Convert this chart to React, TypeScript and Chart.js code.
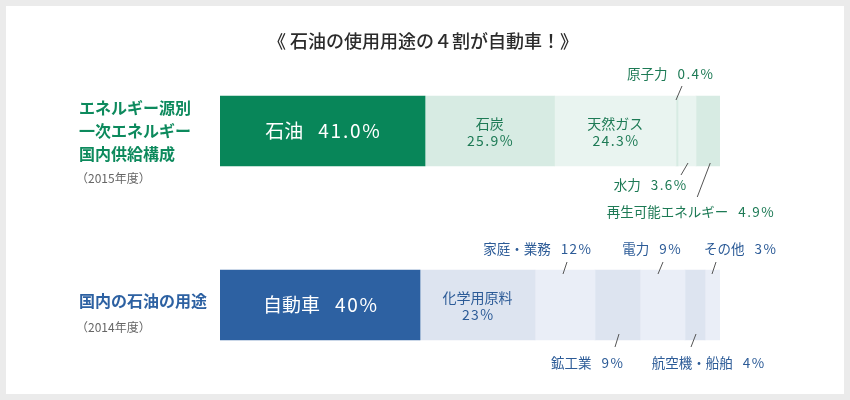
import React, { useEffect, useRef } from 'react';
import { Chart, registerables } from 'chart.js';

Chart.register(...registerables);

// ---- data ----
const titleText = '《 石油の使用用途の４割が自動車！》';
const rowKeys = ['energy', 'usage'];
const energyTitleLines = ['エネルギー源別', '一次エネルギー', '国内供給構成'];
const energyYear = '（2015年度）';
const usageTitleLines = ['国内の石油の用途'];
const usageYear = '（2014年度）';

const energyNames = ['石油', '石炭', '天然ガス', '原子力', '水力', '再生可能エネルギー'];
const energyValues = [41.0, 25.9, 24.3, 0.4, 3.6, 4.9];
const usageNames = ['自動車', '化学用原料', '家庭・業務', '鉱工業', '電力', '航空機・船舶', 'その他'];
const usageValues = [40, 23, 12, 9, 9, 4, 3];

// ---- styles ----
const FONT = '"Noto Sans CJK JP", "Noto Sans", sans-serif';
const energyColors = ['#088659', '#d7ebe3', '#e9f4f0', '#d7ebe3', '#e9f4f0', '#d7ebe3'];
const usageColors = ['#2d61a2', '#dde4f0', '#eaeef7', '#dde4f0', '#eaeef7', '#dde4f0', '#eaeef7'];
const energyText = '#1d7a55';
const usageText = '#2c5b97';
const energyTitleColor = '#0d8a5d';
const usageTitleColor = '#2d61a2';

type LabelStyle = {
  mode: 'big' | 'inside' | 'top' | 'bottom';
  dx?: number;
  dy?: number;
  line?: [number, number, number, number];
};

const energyLabelStyles: LabelStyle[] = [
  { mode: 'big' },
  { mode: 'inside' },
  { mode: 'inside' },
  { mode: 'top', dx: -7, dy: -22, line: [-1, 4, 5, -10] },
  { mode: 'bottom', dx: -37, dy: 19, line: [1, -3, -6, 9] },
  { mode: 'bottom', dx: -18, dy: 46, line: [2, -3, -11, 31] },
];
const usageLabelStyles: LabelStyle[] = [
  { mode: 'big' },
  { mode: 'inside' },
  { mode: 'top', dx: -28, dy: -21, line: [2, -8, -2, 4] },
  { mode: 'bottom', dx: -30.5, dy: 23, line: [1.5, -6, -2.5, 7] },
  { mode: 'top', dx: -11, dy: -21, line: [0.5, -8, -4.5, 4] },
  { mode: 'bottom', dx: 13, dy: 23, line: [1, -6, -4, 7] },
  { mode: 'top', dx: 27.5, dy: -21, line: [3.5, -8, -0.5, 4] },
];

const rows = [
  { names: energyNames, values: energyValues, decimals: 1, colors: energyColors, text: energyText, styles: energyLabelStyles },
  { names: usageNames, values: usageValues, decimals: 0, colors: usageColors, text: usageText, styles: usageLabelStyles },
];

const maxSegments = Math.max(energyValues.length, usageValues.length);

function drawPair(ctx: any, name: string, value: string, cx: number, y: number, font: string, gap: number, spacing: number) {
  ctx.font = font;
  ctx.textAlign = 'left';
  ctx.letterSpacing = '0px';
  const nw = ctx.measureText(name).width;
  ctx.letterSpacing = spacing + 'px';
  const vw = ctx.measureText(value).width - spacing;
  const total = nw + gap + vw;
  const x0 = cx - total / 2;
  ctx.letterSpacing = '0px';
  ctx.fillText(name, x0, y);
  ctx.letterSpacing = spacing + 'px';
  ctx.fillText(value, x0 + nw + gap, y);
  ctx.letterSpacing = '0px';
}

function drawSpaced(ctx: any, text: string, cx: number, y: number, font: string, spacing: number) {
  ctx.font = font;
  ctx.textAlign = 'left';
  ctx.letterSpacing = spacing + 'px';
  const w = ctx.measureText(text).width - spacing;
  ctx.fillText(text, cx - w / 2, y);
  ctx.letterSpacing = '0px';
}

const framePlugin = {
  id: 'frame',
  beforeDraw(chart: any) {
    const ctx = chart.ctx;
    ctx.save();
    ctx.fillStyle = '#ebebeb';
    ctx.fillRect(0, 0, chart.width, chart.height);
    ctx.fillStyle = '#ffffff';
    ctx.fillRect(6, 6, chart.width - 12, chart.height - 12);
    ctx.restore();
  },
};

const labelsPlugin = {
  id: 'labels',
  afterDatasetsDraw(chart: any) {
    const ctx = chart.ctx;
    ctx.save();
    ctx.textBaseline = 'middle';

    // title
    ctx.fillStyle = '#2b2b2b';
    ctx.textAlign = 'center';
    ctx.font = `500 18px ${FONT}`;
    ctx.fillText(titleText, 423, 41);

    rows.forEach((row, r) => {
      let barCenter = 0;
      row.values.forEach((v, i) => {
        const meta = chart.getDatasetMeta(i);
        const el = meta.data[r];
        if (!el) return;
        const p = el.getProps(['x', 'base', 'y', 'height'], true);
        const cx = (p.x + p.base) / 2;
        const top = p.y - p.height / 2;
        const bottom = p.y + p.height / 2;
        barCenter = p.y;
        const st = row.styles[i];
        const valueStr = v.toFixed(row.decimals) + '%';
        const name = row.names[i];
        if (st.mode === 'big') {
          ctx.fillStyle = '#ffffff';
          drawPair(ctx, name, valueStr, cx, p.y, `19px ${FONT}`, 15, 1.8);
        } else if (st.mode === 'inside') {
          ctx.fillStyle = row.text;
          drawSpaced(ctx, name, cx, p.y - 7, `14px ${FONT}`, 0);
          drawSpaced(ctx, valueStr, cx, p.y + 9.5, `14px ${FONT}`, 1.4);
        } else {
          const edge = st.mode === 'top' ? top : bottom;
          const ln = st.line!;
          ctx.strokeStyle = '#555555';
          ctx.lineWidth = 1;
          ctx.beginPath();
          ctx.moveTo(cx + ln[0], edge + ln[1]);
          ctx.lineTo(cx + ln[2], edge + ln[3]);
          ctx.stroke();
          ctx.fillStyle = row.text;
          drawPair(ctx, name, valueStr, cx + (st.dx || 0), edge + (st.dy || 0), `13.5px ${FONT}`, 10, 1.4);
        }
      });

      // left labels
      ctx.textAlign = 'left';
      if (rowKeys[r] === 'energy') {
        ctx.fillStyle = energyTitleColor;
        ctx.font = `bold 16px ${FONT}`;
        energyTitleLines.forEach((t, k) => ctx.fillText(t, 79, barCenter - 23 + k * 23));
        ctx.fillStyle = '#666666';
        ctx.font = `12px ${FONT}`;
        ctx.fillText(energyYear, 76, barCenter + 47);
      } else {
        ctx.fillStyle = usageTitleColor;
        ctx.font = `bold 16px ${FONT}`;
        usageTitleLines.forEach((t, k) => ctx.fillText(t, 79, barCenter - 4 + k * 23));
        ctx.fillStyle = '#666666';
        ctx.font = `12px ${FONT}`;
        ctx.fillText(usageYear, 76, barCenter + 22);
      }
    });
    ctx.restore();
  },
};

export default function App() {
  const ref = useRef<HTMLCanvasElement | null>(null);
  useEffect(() => {
    if (!ref.current) return;
    const datasets = Array.from({ length: maxSegments }, (_, i) => ({
      label: `seg${i}`,
      data: rows.map((row) => (i < row.values.length ? row.values[i] : null)),
      backgroundColor: rows.map((row) => row.colors[i] || 'transparent'),
      borderWidth: 0,
      barThickness: 70,
    }));
    const chart = new Chart(ref.current, {
      type: 'bar',
      data: { labels: rowKeys, datasets: datasets as any },
      options: {
        indexAxis: 'y',
        responsive: false,
        animation: false,
        layout: { padding: { left: 220, right: 130, top: 44, bottom: 8 } },
        scales: {
          x: { stacked: true, min: 0, max: 100, display: false },
          y: { stacked: true, display: false },
        },
        plugins: { legend: { display: false }, tooltip: { enabled: false } },
      },
      plugins: [framePlugin, labelsPlugin],
    });
    return () => chart.destroy();
  }, []);
  return (
    <div style={{ position: 'fixed', left: 0, top: 0, width: 850, height: 400 }}>
      <canvas ref={ref} width={850} height={400} style={{ display: 'block', width: 850, height: 400 }} />
    </div>
  );
}
